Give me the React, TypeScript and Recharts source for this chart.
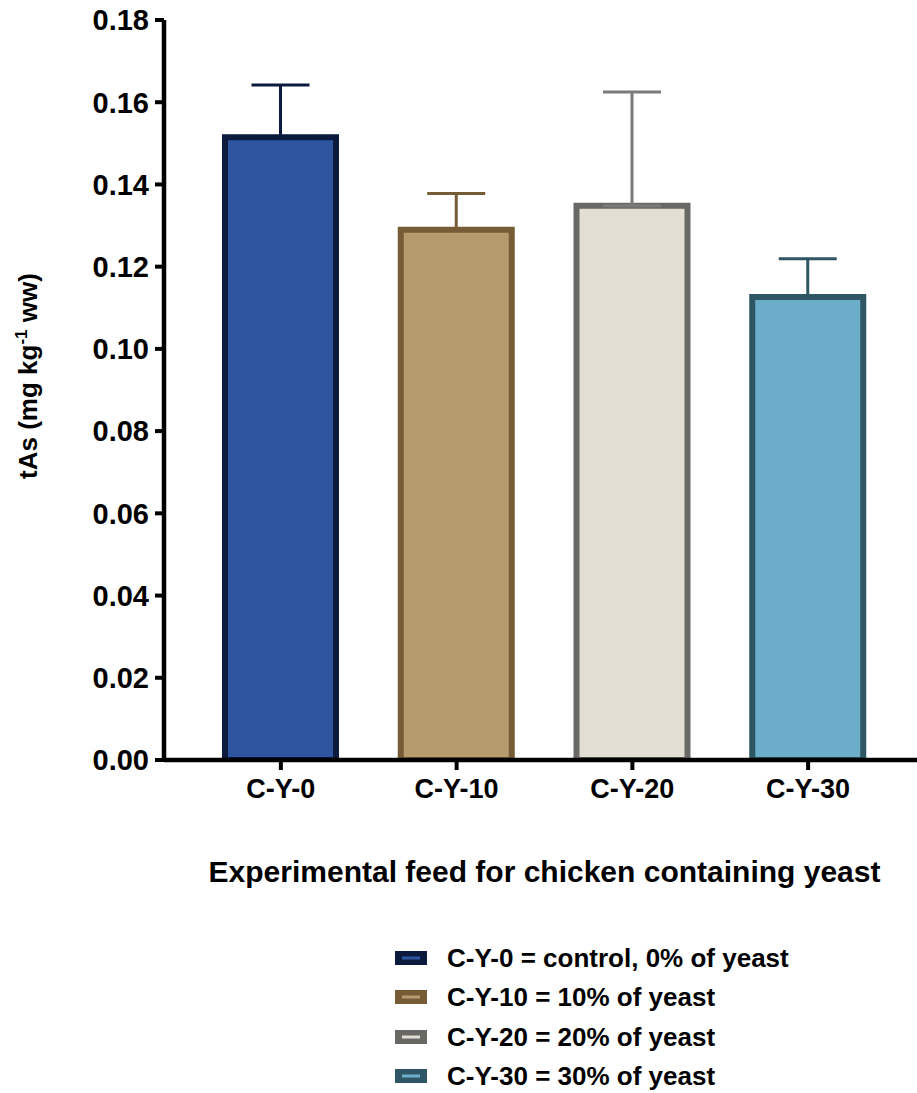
import React from 'react';
import { BarChart, Bar, XAxis, YAxis, ErrorBar, Cell, Label } from 'recharts';

const categories = ['C-Y-0', 'C-Y-10', 'C-Y-20', 'C-Y-30'];
const means = [0.1515, 0.129, 0.1348, 0.1126];
const errUp = [0.0127, 0.0088, 0.0277, 0.0093];
const fills = ['#2e56a0', '#b59b6e', '#e2ded4', '#6caeca'];
const strokes = ['#0b1a3d', '#765c36', '#686864', '#2e5664'];
const errColors = ['#0b1a3d', '#765c36', '#7a7a78', '#2e5664'];
const yTicks = [0, 0.02, 0.04, 0.06, 0.08, 0.1, 0.12, 0.14, 0.16, 0.18];
const legendLabels = [
  'C-Y-0 = control, 0% of yeast',
  'C-Y-10 = 10% of yeast',
  'C-Y-20 = 20% of yeast',
  'C-Y-30 = 30% of yeast',
];
const xTitle = 'Experimental feed for chicken containing yeast';

const errKeys = categories.map((_, i) => 'e' + i);
const data = categories.map((name, i) => {
  const row: any = { name, value: means[i] };
  row[errKeys[i]] = [0, errUp[i]];
  return row;
});

const FONT = '"Liberation Sans", Arial, sans-serif';

export default function App() {
  return (
    <div style={{ position: 'absolute', left: 0, top: 0, width: 917, height: 1093, background: '#fff' }}>
      <BarChart
        width={917}
        height={1093}
        data={data}
        margin={{ top: 20, right: 0, left: 0, bottom: 273 }}
      >
        <XAxis
          dataKey="name"
          height={60}
          padding={{ left: 29, right: 21 }}
          axisLine={{ stroke: '#000', strokeWidth: 4.5 }}
          tickLine={{ stroke: '#000', strokeWidth: 4 }}
          tickSize={10}
          tickMargin={9}
          tick={{ fill: '#000', fontSize: 27, fontWeight: 700, fontFamily: FONT }}
        >
          <Label
            content={(props: any) => {
              const vb = props.viewBox || {};
              return (
                <text
                  x={vb.x + vb.width / 2 + 4}
                  y={882}
                  textAnchor="middle"
                  fill="#000"
                  fontSize={30}
                  fontWeight={700}
                  fontFamily={FONT}
                >
                  {xTitle}
                </text>
              );
            }}
          />
        </XAxis>
        <YAxis
          width={164}
          domain={[0, 0.18]}
          ticks={yTicks}
          interval={0}
          allowDataOverflow
          tickFormatter={(v: number) => v.toFixed(2)}
          axisLine={{ stroke: '#000', strokeWidth: 4.5 }}
          tickLine={{ stroke: '#000', strokeWidth: 4 }}
          tickSize={9}
          tickMargin={6}
          tick={{ fill: '#000', fontSize: 29, fontWeight: 700, fontFamily: FONT }}
        >
          <Label
            content={() => (
              <text
                transform="translate(37, 376) rotate(-90)"
                textAnchor="middle"
                fill="#000"
                fontSize={26}
                fontWeight={700}
                fontFamily={FONT}
              >
                <tspan>tAs (mg kg</tspan>
                <tspan fontSize={17} dy={-10}>-1</tspan>
                <tspan dy={10}> ww)</tspan>
              </text>
            )}
          />
        </YAxis>
        <Bar dataKey="value" barSize={111} strokeWidth={6} isAnimationActive={false}>
          {data.map((d, i) => (
            <Cell key={d.name} fill={fills[i]} stroke={strokes[i]} />
          ))}
          {errKeys.map((k, i) => (
            <ErrorBar
              key={k}
              dataKey={k}
              direction="y"
              width={29}
              stroke={errColors[i]}
              strokeWidth={3}
              isAnimationActive={false}
            />
          ))}
        </Bar>
      </BarChart>
      <div style={{ position: 'absolute', left: 395, top: 938, fontFamily: FONT }}>
        {legendLabels.map((lab, i) => (
          <div key={lab} style={{ display: 'flex', alignItems: 'center', height: 39.5 }}>
            <svg width={32} height={14} style={{ marginRight: 20 }}>
              <rect x={0} y={0} width={32} height={14} fill={strokes[i]} />
              <rect x={7} y={5.5} width={18} height={3} fill={fills[i]} />
            </svg>
            <span style={{ fontSize: 26, fontWeight: 700, color: '#000', whiteSpace: 'nowrap', lineHeight: '30px' }}>{lab}</span>
          </div>
        ))}
      </div>
    </div>
  );
}
